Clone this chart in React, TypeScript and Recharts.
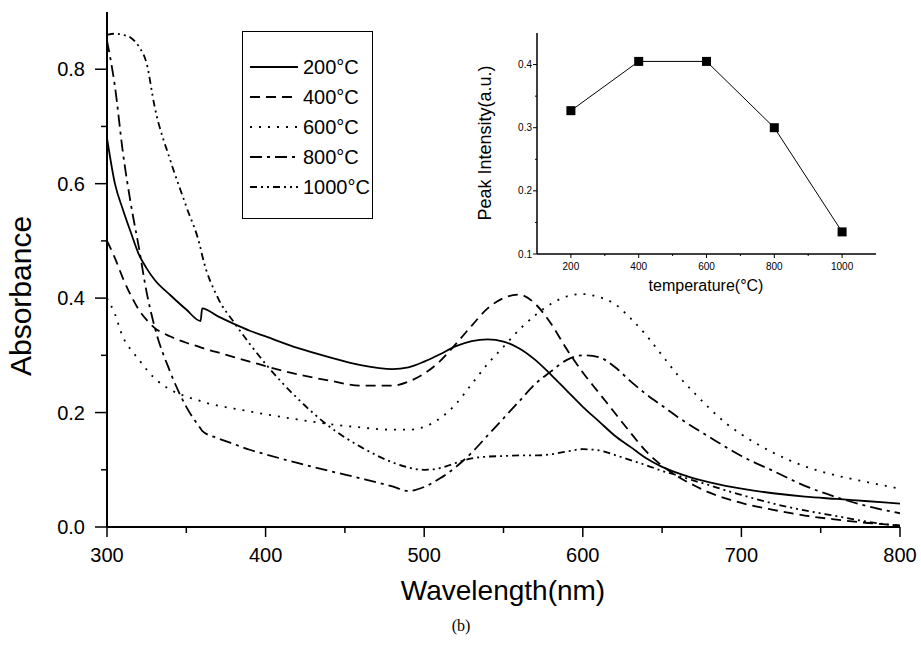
import React from 'react';
import { LineChart, Line, XAxis, YAxis, Legend, Label } from 'recharts';

const wavelengths = [300, 305, 310, 315, 320, 325, 330, 340, 350, 359, 360, 370, 380, 390, 400, 420, 440, 460, 480, 490, 500, 510, 520, 530, 540, 550, 560, 570, 580, 590, 600, 610, 620, 630, 640, 650, 660, 670, 680, 690, 700, 720, 740, 760, 780, 800];
const abs200 = [0.68, 0.6, 0.555, 0.515, 0.477, 0.452, 0.432, 0.405, 0.38, 0.36, 0.382, 0.368, 0.355, 0.343, 0.333, 0.313, 0.297, 0.283, 0.276, 0.279, 0.289, 0.302, 0.316, 0.325, 0.328, 0.324, 0.312, 0.292, 0.266, 0.238, 0.21, 0.185, 0.16, 0.14, 0.12, 0.105, 0.094, 0.085, 0.078, 0.072, 0.067, 0.059, 0.053, 0.049, 0.045, 0.041];
const abs400 = [0.5, 0.47, 0.435, 0.405, 0.38, 0.362, 0.348, 0.333, 0.322, 0.314, 0.313, 0.305, 0.297, 0.289, 0.281, 0.267, 0.256, 0.247, 0.247, 0.254, 0.268, 0.29, 0.32, 0.352, 0.382, 0.4, 0.406, 0.39, 0.355, 0.31, 0.27, 0.235, 0.2, 0.165, 0.132, 0.107, 0.088, 0.073, 0.06, 0.05, 0.042, 0.03, 0.02, 0.013, 0.007, 0.003];
const abs600 = [0.4, 0.372, 0.332, 0.31, 0.293, 0.275, 0.26, 0.24, 0.228, 0.22, 0.219, 0.212, 0.207, 0.202, 0.197, 0.188, 0.18, 0.174, 0.17, 0.17, 0.175, 0.19, 0.215, 0.25, 0.285, 0.315, 0.345, 0.37, 0.39, 0.403, 0.407, 0.402, 0.39, 0.365, 0.335, 0.3, 0.265, 0.235, 0.207, 0.182, 0.162, 0.13, 0.106, 0.09, 0.078, 0.067];
const abs800 = [0.85, 0.77, 0.655, 0.565, 0.49, 0.41, 0.35, 0.27, 0.21, 0.172, 0.168, 0.155, 0.145, 0.135, 0.127, 0.112, 0.098, 0.085, 0.071, 0.063, 0.07, 0.085, 0.105, 0.13, 0.16, 0.19, 0.22, 0.25, 0.272, 0.292, 0.3, 0.297, 0.28, 0.255, 0.232, 0.212, 0.192, 0.174, 0.157, 0.14, 0.124, 0.098, 0.072, 0.052, 0.036, 0.024];
const abs1000 = [0.86, 0.862, 0.86, 0.855, 0.84, 0.81, 0.735, 0.64, 0.56, 0.487, 0.475, 0.4, 0.358, 0.32, 0.285, 0.225, 0.176, 0.14, 0.113, 0.104, 0.1, 0.103, 0.112, 0.12, 0.123, 0.124, 0.125, 0.125, 0.127, 0.132, 0.136, 0.134, 0.126, 0.117, 0.108, 0.098, 0.09, 0.081, 0.073, 0.064, 0.056, 0.041, 0.029, 0.019, 0.009, 0.002];

const seriesNames = ['200°C', '400°C', '600°C', '800°C', '1000°C'];
const seriesKeys = ['s200', 's400', 's600', 's800', 's1000'];
const seriesValues = [abs200, abs400, abs600, abs800, abs1000];
const seriesDash = ['', '10 6', '2 7', '12 5 3 5', '7 4 2 4 2 4'];

const xTicks = [300, 350, 400, 450, 500, 550, 600, 650, 700, 750, 800];
const yTicks = [0, 0.1, 0.2, 0.3, 0.4, 0.5, 0.6, 0.7, 0.8];

const temps = [200, 400, 600, 800, 1000];
const peakIntensity = [0.327, 0.405, 0.405, 0.3, 0.135];
const insetXTicks = [100, 200, 300, 400, 500, 600, 700, 800, 900, 1000, 1100];
const insetYTicks = [0.1, 0.15, 0.2, 0.25, 0.3, 0.35, 0.4, 0.45];

const data = wavelengths.map((w, i) => {
  const row: any = { w };
  seriesKeys.forEach((k, j) => { row[k] = seriesValues[j][i]; });
  return row;
});
const insetData = temps.map((t, i) => ({ t, v: peakIntensity[i] }));

const FONT = '"Liberation Sans", Arial, sans-serif';

const XTick = (props: any) => {
  const { x, y, payload } = props;
  const v = payload.value;
  const major = v % 100 === 0;
  return (
    <g>
      <line x1={x} y1={y} x2={x} y2={y + (major ? 10 : 6)} stroke="#000" strokeWidth={1.5} />
      {major && (
        <text x={x} y={y + 35} textAnchor="middle" fontSize={20} fill="#000" fontFamily={FONT}>{v}</text>
      )}
    </g>
  );
};

const YTick = (props: any) => {
  const { x, y, payload } = props;
  const v = payload.value;
  const major = Math.round(v * 10) % 2 === 0;
  return (
    <g>
      <line x1={x - (major ? 12 : 6)} y1={y} x2={x} y2={y} stroke="#000" strokeWidth={1.5} />
      {major && (
        <text x={x - 22} y={y + 7} textAnchor="end" fontSize={20} fill="#000" fontFamily={FONT}>{v.toFixed(1)}</text>
      )}
    </g>
  );
};

const InsetXTick = (props: any) => {
  const { x, y, payload } = props;
  const v = payload.value;
  const major = v % 200 === 0 && v >= 200 && v <= 1000;
  if (v === 100 || v === 1100) return <g />;
  return (
    <g>
      <line x1={x} y1={y} x2={x} y2={y + (major ? 4 : 2)} stroke="#000" strokeWidth={1} />
      {major && (
        <text x={x} y={y + 16} textAnchor="middle" fontSize={10} fill="#000" fontFamily={FONT}>{v}</text>
      )}
    </g>
  );
};

const InsetYTick = (props: any) => {
  const { x, y, payload } = props;
  const v = payload.value;
  const major = Math.round(v * 100) % 10 === 0;
  if (v > 0.44) return <g />;
  return (
    <g>
      <line x1={x - (major ? 4 : 2)} y1={y} x2={x} y2={y} stroke="#000" strokeWidth={1} />
      {major && (
        <text x={x - 5} y={y + 3.5} textAnchor="end" fontSize={10} fill="#000" fontFamily={FONT}>{v.toFixed(1)}</text>
      )}
    </g>
  );
};

const renderLegend = () => (
  <svg width={129} height={186} style={{ display: 'block' }}>
    {seriesNames.map((name, i) => (
      <g key={name}>
        <line x1={7} x2={55} y1={35 + i * 30} y2={35 + i * 30} stroke="#000" strokeWidth={2} strokeDasharray={seriesDash[i] || undefined} />
        <text x={60} y={42 + i * 30} fontSize={20} fill="#000" fontFamily={FONT}>{name}</text>
      </g>
    ))}
  </svg>
);

const Square = (p: any) => (
  <rect key={`sq-${p.index}`} x={p.cx - 4.5} y={p.cy - 4.5} width={9} height={9} fill="#000" />
);

export default function App() {
  return (
    <div style={{ position: 'relative', width: 921, height: 651, fontFamily: FONT, background: '#fff' }}>
      <style>{'body{margin:0;background:#fff;}'}</style>
      <LineChart width={921} height={651} data={data} margin={{ top: 12, right: 21, bottom: 84, left: 47 }}>
        <XAxis xAxisId="b" dataKey="w" type="number" domain={[300, 800]} ticks={xTicks} interval={0}
          tickSize={0} tickMargin={0} tickLine={false} tick={<XTick />} height={40}
          axisLine={{ stroke: '#000', strokeWidth: 2 }} allowDataOverflow>
          <Label content={() => (
            <g>
              <text x={503} y={600} textAnchor="middle" fontSize={28} fill="#000" fontFamily={FONT}>Wavelength(nm)</text>
              <text x={461} y={631} textAnchor="middle" fontSize={16} fill="#000" fontFamily="'Liberation Serif', 'Times New Roman', serif">(b)</text>
            </g>
          )} />
        </XAxis>
        <XAxis xAxisId="t" orientation="top" dataKey="w" type="number" domain={[300, 800]} tick={false} tickLine={false}
          height={0} axisLine={{ stroke: '#000', strokeWidth: 2 }} allowDataOverflow />
        <YAxis yAxisId="l" type="number" domain={[0, 0.9]} ticks={yTicks} interval={0} tickSize={0} tickMargin={0}
          tickLine={false} tick={<YTick />} width={60} axisLine={{ stroke: '#000', strokeWidth: 2 }} allowDataOverflow>
          <Label content={() => (
            <text x={31} y={296} transform="rotate(-90 31 296)" textAnchor="middle" fontSize={30} fill="#000" fontFamily={FONT}>Absorbance</text>
          )} />
        </YAxis>
        <YAxis yAxisId="r" orientation="right" type="number" domain={[0, 0.9]} tick={false} tickLine={false}
          width={0} axisLine={{ stroke: '#000', strokeWidth: 2.5 }} allowDataOverflow />
        <Legend layout="vertical" align="center" verticalAlign="middle" content={renderLegend}
          wrapperStyle={{ left: 242, top: 31, width: 131, height: 188, border: '1.5px solid #000', boxSizing: 'border-box', background: '#fff' }} />
        {seriesKeys.map((k, i) => (
          <Line key={k} xAxisId="b" yAxisId="l" type="monotone" dataKey={k} name={seriesNames[i]} stroke="#000"
            strokeWidth={1.8} strokeDasharray={seriesDash[i] || undefined} dot={false} activeDot={false}
            isAnimationActive={false} />
        ))}
      </LineChart>
      <div style={{ position: 'absolute', left: 470, top: 20 }}>
        <LineChart width={420} height={280} data={insetData} margin={{ top: 13, right: 14, bottom: 0, left: 0 }}>
          <XAxis xAxisId="b" dataKey="t" type="number" domain={[100, 1100]} ticks={insetXTicks} interval={0}
            tickSize={0} tickMargin={0} tickLine={false} tick={<InsetXTick />} height={46}
            axisLine={{ stroke: '#000', strokeWidth: 1.5 }}>
            <Label content={() => (
              <text x={236} y={271} textAnchor="middle" fontSize={16} fill="#000" fontFamily={FONT}>temperature(°C)</text>
            )} />
          </XAxis>
          <XAxis xAxisId="t" orientation="top" dataKey="t" type="number" domain={[100, 1100]} tick={false} tickLine={false}
            height={0} axisLine={{ stroke: '#000', strokeWidth: 1.5 }} />
          <YAxis yAxisId="l" type="number" domain={[0.1, 0.45]} ticks={insetYTicks} interval={0} tickSize={0} tickMargin={0}
            tickLine={false} tick={<InsetYTick />} width={67} axisLine={{ stroke: '#000', strokeWidth: 1.5 }}>
            <Label content={() => (
              <text x={21} y={123} transform="rotate(-90 21 123)" textAnchor="middle" fontSize={18} fill="#000" fontFamily={FONT}>Peak Intensity(a.u.)</text>
            )} />
          </YAxis>
          <YAxis yAxisId="r" orientation="right" type="number" domain={[0.1, 0.45]} tick={false} tickLine={false}
            width={0} axisLine={{ stroke: '#000', strokeWidth: 1.5 }} />
          <Line xAxisId="b" yAxisId="l" type="linear" dataKey="v" stroke="#000" strokeWidth={1}
            dot={<Square />} activeDot={false} isAnimationActive={false} />
        </LineChart>
      </div>
    </div>
  );
}
